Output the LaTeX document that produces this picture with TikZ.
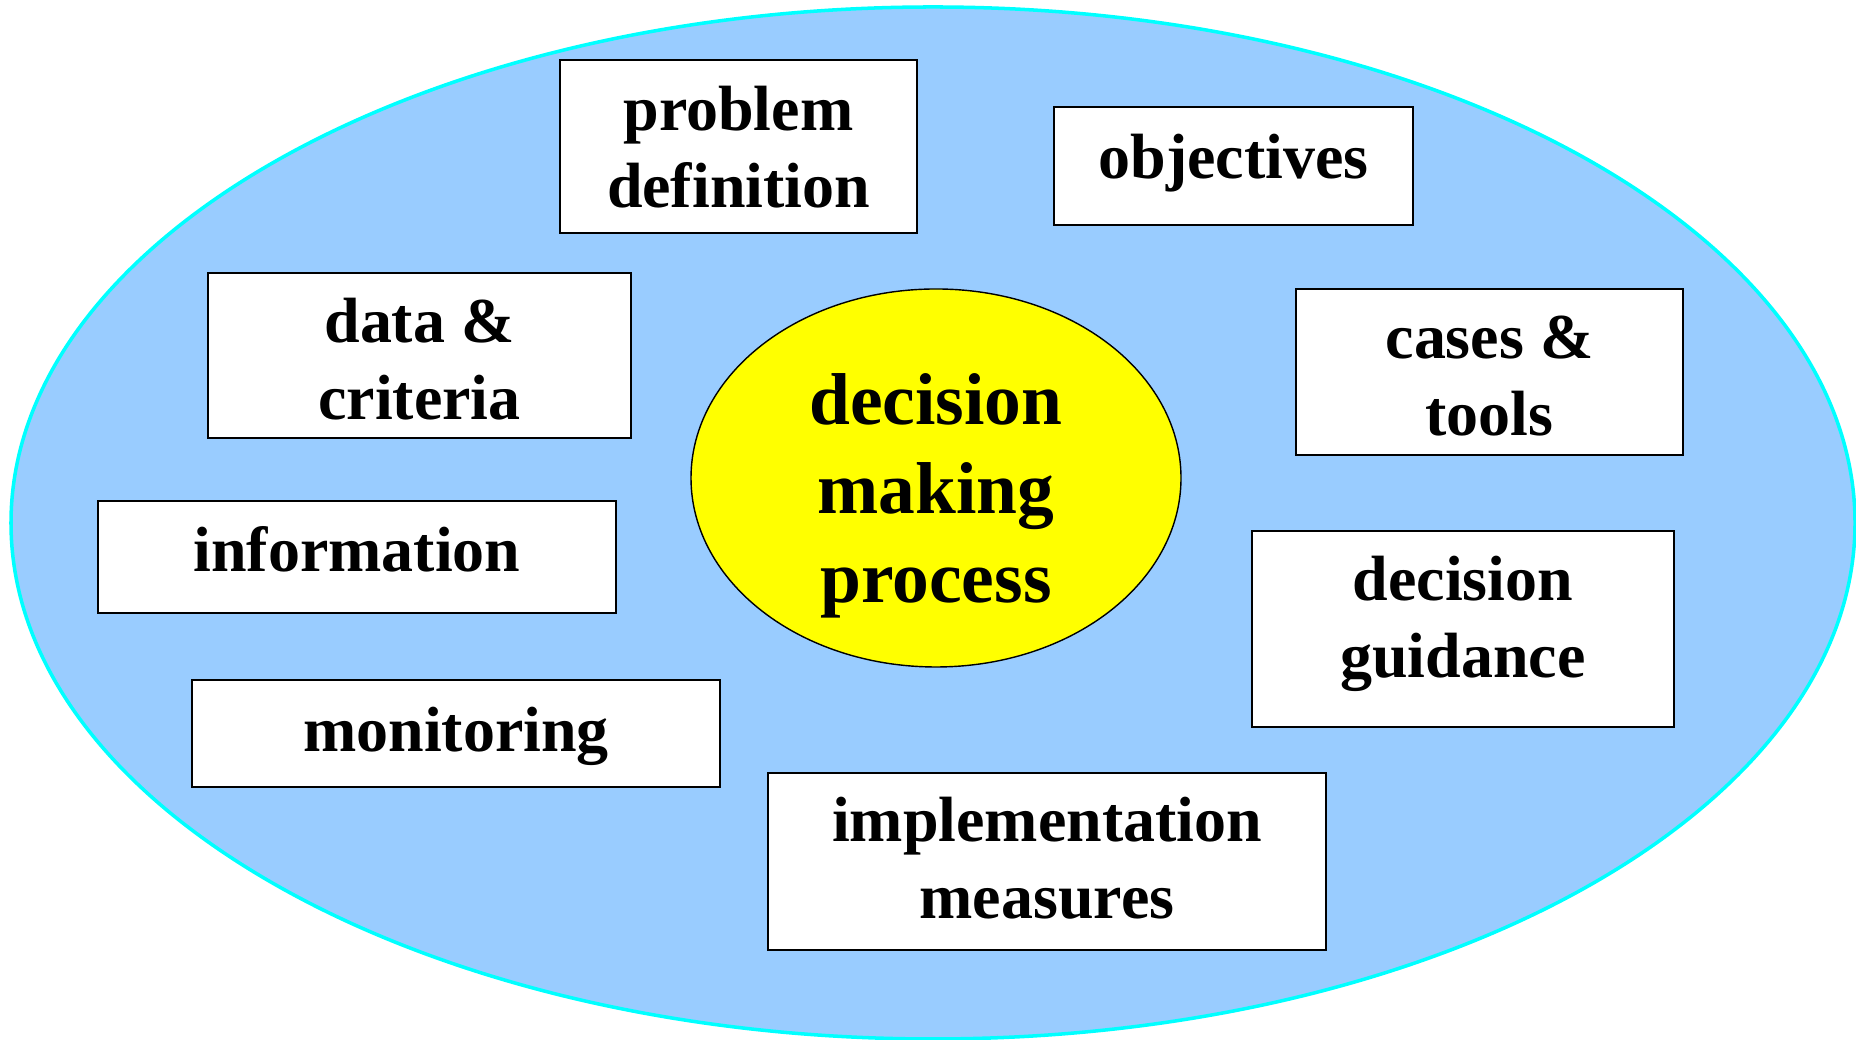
\documentclass[tikz,border=0pt]{standalone}
\usepackage{fontspec}
\setmainfont{Liberation Serif}
\usetikzlibrary{shapes.geometric}
\definecolor{skyback}{RGB}{153,204,255}
\definecolor{rimcyan}{RGB}{0,255,255}
\definecolor{sunyellow}{RGB}{255,255,0}

\begin{document}
\begin{tikzpicture}[
	frame/.style={draw=black, line width=0.6pt, fill=white, inner sep=0pt},
	caption/.style={align=center, inner sep=0pt, font=\fontsize{18.2}{21.9}\selectfont\bfseries},
	core/.style={ellipse, draw=black, line width=0.4pt, fill=sunyellow, inner sep=0pt,
		minimum width=4.9cm, minimum height=3.78cm},
	coretext/.style={align=center, inner sep=0pt, font=\fontsize{20.9}{25.3}\selectfont\bfseries}]
	
	\useasboundingbox (0,0) rectangle (18.56,10.40);
	\fill[white] (0,0) rectangle (18.56,10.40);
	
	% outer field
	\draw[rimcyan, line width=1pt, fill=skyback] (9.33,5.17) ellipse (9.22 and 5.16);
	
	% centre
	\node[core] (dmp) at (9.36,5.62) {};
	\node[coretext] (dmp-txt) at ([yshift=-0.18cm]dmp.center) {decision\\making\\process};
	
	% boxes round the centre
	\node[frame, minimum width=3.57cm, minimum height=1.73cm] (probdef) at (7.385,8.935) {};
	\node[caption] (probdef-txt) at ([yshift=-0.01cm]probdef.center) {problem\\definition};
	
	\node[frame, minimum width=3.59cm, minimum height=1.18cm] (objectives) at (12.335,8.74) {};
	\node[caption] (objectives-txt) at ([yshift=0.03cm]objectives.center) {objectives};
	
	\node[frame, minimum width=4.23cm, minimum height=1.65cm] (datacrit) at (4.195,6.845) {};
	\node[caption] (datacrit-txt) at ([yshift=-0.04cm]datacrit.center) {data \&\\criteria};
	
	\node[frame, minimum width=3.87cm, minimum height=1.66cm] (casestools) at (14.895,6.68) {};
	\node[caption] (casestools-txt) at ([yshift=-0.04cm]casestools.center) {cases \&\\tools};
	
	\node[frame, minimum width=5.18cm, minimum height=1.12cm] (information) at (3.57,4.83) {};
	\node[caption] (information-txt) at ([yshift=0.08cm]information.center) {information};
	
	\node[frame, minimum width=4.22cm, minimum height=1.96cm] (guidance) at (14.63,4.11) {};
	\node[caption] (guidance-txt) at ([yshift=0.05cm]guidance.center) {decision\\guidance};
	
	\node[frame, minimum width=5.28cm, minimum height=1.07cm] (monitoring) at (4.56,3.065) {};
	\node[caption] (monitoring-txt) at ([yshift=-0.03cm]monitoring.center) {monitoring};
	
	\node[frame, minimum width=5.58cm, minimum height=1.77cm] (implement) at (10.47,1.785) {};
	\node[caption] (implement-txt) at ([yshift=0.03cm]implement.center) {implementation\\measures};
	
\end{tikzpicture}
\end{document}
